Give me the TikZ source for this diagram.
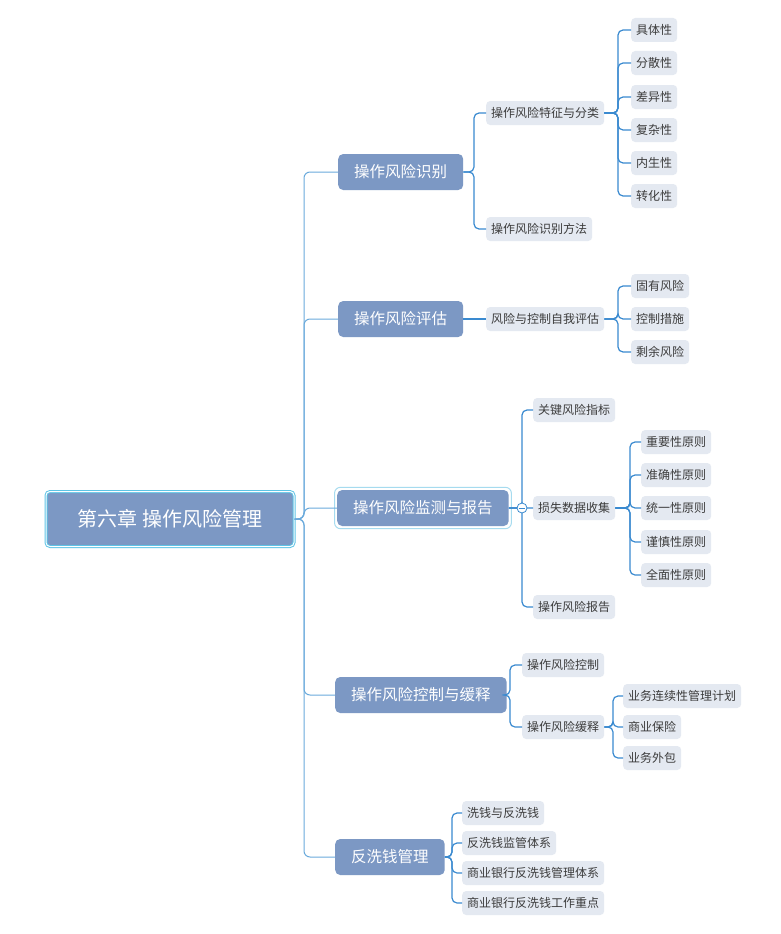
\documentclass[tikz,border=0pt]{standalone}
\usepackage{fontspec}
\usepackage{xcolor}
\usepackage{tikz}
\newfontfamily\cjk{Noto Sans CJK SC}
\definecolor{lanhui}{HTML}{7C98C4}
\definecolor{qianhui}{HTML}{E4E9F1}
\definecolor{mo}{HTML}{3C3C3C}
\definecolor{xianlan}{HTML}{3A8AD0}
\definecolor{ganlan}{HTML}{6AAADC}
\definecolor{qing}{HTML}{5EC4E6}
\definecolor{qianqing}{HTML}{A6DBEF}

\begin{document}
\begin{tikzpicture}[
      x=1pt,y=-1pt,
      every node/.style={font=\cjk},
      R/.style={draw=qing,double=white,double distance=1pt,line width=1pt,fill=lanhui,text=white,
        rounded corners=4pt,minimum width=248pt,minimum height=55pt,font=\cjk\fontsize{20}{24}\selectfont},
      T/.style={fill=lanhui,text=white,rounded corners=5pt,anchor=west,inner xsep=16pt,
        minimum height=36pt,font=\cjk\fontsize{15.5}{18}\selectfont},
      S/.style={fill=qianhui,text=mo,rounded corners=4pt,anchor=west,inner xsep=5pt,
        minimum height=24pt,font=\cjk\fontsize{12}{14}\selectfont},
      ln/.style={draw=xianlan,line width=1.2pt,rounded corners=5pt},
      gan/.style={draw=ganlan,line width=1pt,rounded corners=6pt},
      xuan/.style={draw=qianqing,line width=1pt,rounded corners=6pt},
      tog/.style={circle,draw=xianlan,fill=white,line width=0.8pt,minimum size=10pt,inner sep=0pt},
    ]
  \path[use as bounding box,fill=white] (0,0) rectangle (780,934);

  % 中心主题
  \node[R] (ch6) at (170,519) {第六章 操作风险管理};

  % 一级分支
  \node[T] (sb) at (338,172) {操作风险识别};
  \node[T] (pg) at (338,319) {操作风险评估};
  \node[T] (jc) at (337,508) {操作风险监测与报告};
  \node[T] (kz) at (335,695) {操作风险控制与缓释};
  \node[T] (fx) at (335,857) {反洗钱管理};
  \draw[xuan] ([shift={(-2.5,-2.5)}]jc.north west) rectangle ([shift={(2.5,2.5)}]jc.south east);

  % 识别
  \node[S] (sb1) at (486,113) {操作风险特征与分类};
  \node[S] (sb2) at (486,229) {操作风险识别方法};
  \node[S] (tz1) at (631,30) {具体性};
  \node[S] (tz2) at (631,63) {分散性};
  \node[S] (tz3) at (631,97) {差异性};
  \node[S] (tz4) at (631,130) {复杂性};
  \node[S] (tz5) at (631,163) {内生性};
  \node[S] (tz6) at (631,196) {转化性};

  % 评估
  \node[S] (pg1) at (486,319) {风险与控制自我评估};
  \node[S] (zp1) at (631,286) {固有风险};
  \node[S] (zp2) at (631,319) {控制措施};
  \node[S] (zp3) at (631,352) {剩余风险};

  % 监测与报告
  \node[S] (jc1) at (533,410) {关键风险指标};
  \node[S] (jc2) at (533,508) {损失数据收集};
  \node[S] (jc3) at (533,607) {操作风险报告};
  \node[S] (yz1) at (641,442) {重要性原则};
  \node[S] (yz2) at (641,475) {准确性原则};
  \node[S] (yz3) at (641,508) {统一性原则};
  \node[S] (yz4) at (641,542) {谨慎性原则};
  \node[S] (yz5) at (641,575) {全面性原则};

  % 控制与缓释
  \node[S] (kz1) at (522,665) {操作风险控制};
  \node[S] (kz2) at (522,727) {操作风险缓释};
  \node[S] (hs1) at (623,696) {业务连续性管理计划};
  \node[S] (hs2) at (623,727) {商业保险};
  \node[S] (hs3) at (623,758) {业务外包};

  % 反洗钱
  \node[S] (fx1) at (462,813) {洗钱与反洗钱};
  \node[S] (fx2) at (462,843) {反洗钱监管体系};
  \node[S] (fx3) at (462,873) {商业银行反洗钱管理体系};
  \node[S] (fx4) at (462,903) {商业银行反洗钱工作重点};

  % 分叉点
  \coordinate (gj) at (304,519);
  \coordinate (sbj) at (474,172);
  \coordinate (tzj) at (618,113);
  \coordinate (zpj) at (618,319);
  \coordinate (jcj) at (522,508);
  \coordinate (yzj) at (630,508);
  \coordinate (kzj) at (510,695);
  \coordinate (hsj) at (613,727);
  \coordinate (fxj) at (452,857);

  % 主干
  \draw[gan] (ch6.east) -- (gj) |- (sb.west);
  \draw[gan] (ch6.east) -- (gj) |- (pg.west);
  \draw[gan] (ch6.east) -- (gj) |- (jc.west);
  \draw[gan] (ch6.east) -- (gj) |- (kz.west);
  \draw[gan] (ch6.east) -- (gj) |- (fx.west);

  \draw[ln] (sb.east) -- (sbj) |- (sb1.west);
  \draw[ln] (sb.east) -- (sbj) |- (sb2.west);
  \draw[ln] (sb1.east) -- (tzj) |- (tz1.west);
  \draw[ln] (sb1.east) -- (tzj) |- (tz2.west);
  \draw[ln] (sb1.east) -- (tzj) |- (tz3.west);
  \draw[ln] (sb1.east) -- (tzj) |- (tz4.west);
  \draw[ln] (sb1.east) -- (tzj) |- (tz5.west);
  \draw[ln] (sb1.east) -- (tzj) |- (tz6.west);

  \draw[ln] (pg.east) -- (pg1.west);
  \draw[ln] (pg1.east) -- (zpj) |- (zp1.west);
  \draw[ln] (pg1.east) -- (zpj) |- (zp2.west);
  \draw[ln] (pg1.east) -- (zpj) |- (zp3.west);

  \draw[ln] (jc.east) -- (jcj) |- (jc1.west);
  \draw[ln] (jc.east) -- (jcj) |- (jc2.west);
  \draw[ln] (jc.east) -- (jcj) |- (jc3.west);
  \draw[ln] (jc2.east) -- (yzj) |- (yz1.west);
  \draw[ln] (jc2.east) -- (yzj) |- (yz2.west);
  \draw[ln] (jc2.east) -- (yzj) |- (yz3.west);
  \draw[ln] (jc2.east) -- (yzj) |- (yz4.west);
  \draw[ln] (jc2.east) -- (yzj) |- (yz5.west);

  \draw[ln] (kz.east) -- (kzj) |- (kz1.west);
  \draw[ln] (kz.east) -- (kzj) |- (kz2.west);
  \draw[ln] (kz2.east) -- (hsj) |- (hs1.west);
  \draw[ln] (kz2.east) -- (hsj) |- (hs2.west);
  \draw[ln] (kz2.east) -- (hsj) |- (hs3.west);

  \draw[ln] (fx.east) -- (fxj) |- (fx1.west);
  \draw[ln] (fx.east) -- (fxj) |- (fx2.west);
  \draw[ln] (fx.east) -- (fxj) |- (fx3.west);
  \draw[ln] (fx.east) -- (fxj) |- (fx4.west);

  % 折叠按钮
  \node[tog] (jct) at (jcj) {};
  \draw[xianlan,line width=0.8pt] ([xshift=2pt]jct.west) -- ([xshift=-2pt]jct.east);
\end{tikzpicture}
\end{document}
